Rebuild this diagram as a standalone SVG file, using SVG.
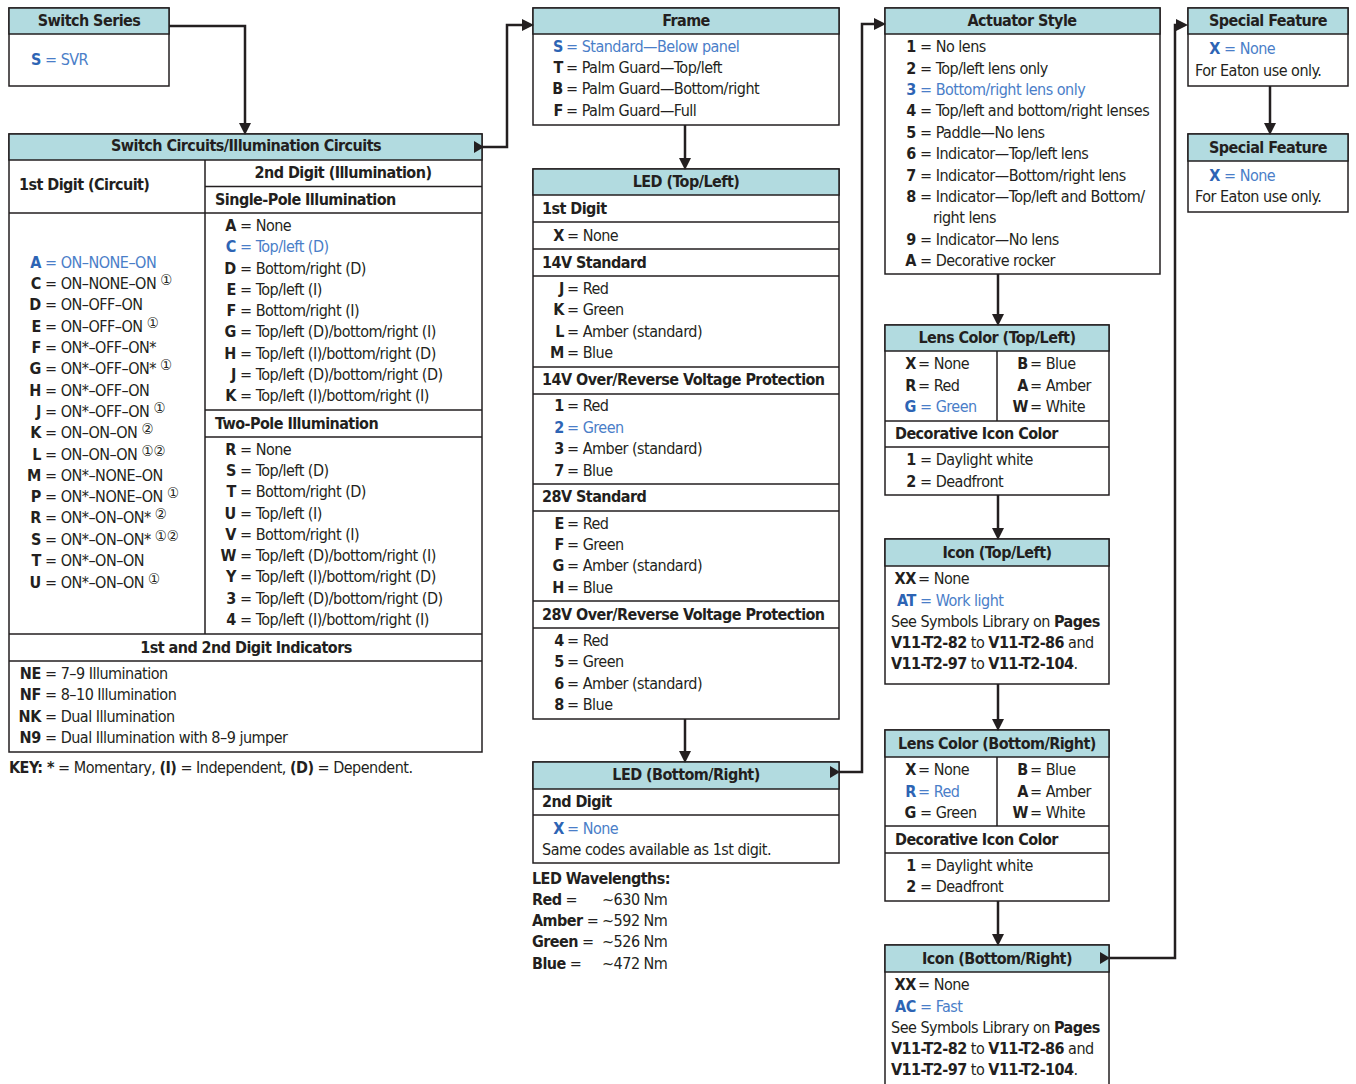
<svg xmlns="http://www.w3.org/2000/svg" width="1356" height="1084" viewBox="0 0 1356 1084">
<style>
text{font-family:"DejaVu Sans Condensed","Liberation Sans Narrow","Liberation Sans",sans-serif;font-size:16px;letter-spacing:-0.5px;fill:#231f20}
.b{font-weight:bold;letter-spacing:-0.55px}
.h{font-weight:bold;text-anchor:middle;letter-spacing:-0.55px}
.e{font-weight:bold;text-anchor:end;letter-spacing:-0.3px}
.bl{fill:#4a7ec8}
.bc{fill:#2d64b4;font-weight:bold;text-anchor:end;letter-spacing:-0.3px}
.sup{font-size:15px;letter-spacing:0}
.hd{fill:#b2dbe0;stroke:#231f20;stroke-width:1.5}
.bx{fill:#fff;stroke:#231f20;stroke-width:1.5}
.ln{fill:none;stroke:#231f20;stroke-width:1.5}
.cn{fill:none;stroke:#231f20;stroke-width:2.5}
.ah{fill:#231f20}
</style>

<g id="switch-series">
<rect class="bx" x="9" y="8" width="160" height="78"/>
<rect class="hd" x="9" y="8" width="160" height="26"/>
<text class="h" x="89" y="26">Switch Series</text>
<text class="bc" x="41" y="65">S</text><text class="bl" x="45" y="65">= SVR</text>
</g>

<g id="switch-circuits">
<rect class="bx" x="9" y="134" width="473" height="618"/>
<rect class="hd" x="9" y="134" width="473" height="26"/>
<text class="h" x="246" y="151">Switch Circuits/Illumination Circuits</text>
<path class="ln" d="M205,160 V634 M9,213 H482 M205,186.5 H482 M205,410 H482 M205,437 H482 M9,634 H482 M9,661 H482"/>
<text class="b" x="19" y="190">1st Digit (Circuit)</text>
<text class="h" x="343" y="178">2nd Digit (Illumination)</text>
<text class="b" x="215" y="205">Single-Pole Illumination</text>
<text class="b" x="215" y="429">Two-Pole Illumination</text>
<text class="h" x="246" y="653">1st and 2nd Digit Indicators</text>

<text class="bc" x="41" y="268">A</text><text class="bl" x="45" y="268">= ON–NONE–ON</text>
<text class="e" x="41" y="289">C</text><text x="45" y="289">= ON–NONE–ON <tspan class="sup" dy="-4">①</tspan></text>
<text class="e" x="41" y="310">D</text><text x="45" y="310">= ON–OFF–ON</text>
<text class="e" x="41" y="332">E</text><text x="45" y="332">= ON–OFF–ON <tspan class="sup" dy="-4">①</tspan></text>
<text class="e" x="41" y="353">F</text><text x="45" y="353">= ON*–OFF–ON*</text>
<text class="e" x="41" y="374">G</text><text x="45" y="374">= ON*–OFF–ON* <tspan class="sup" dy="-4">①</tspan></text>
<text class="e" x="41" y="396">H</text><text x="45" y="396">= ON*–OFF–ON</text>
<text class="e" x="41" y="417">J</text><text x="45" y="417">= ON*–OFF–ON <tspan class="sup" dy="-4">①</tspan></text>
<text class="e" x="41" y="438">K</text><text x="45" y="438">= ON–ON–ON <tspan class="sup" dy="-4">②</tspan></text>
<text class="e" x="41" y="460">L</text><text x="45" y="460">= ON–ON–ON <tspan class="sup" dy="-4">①②</tspan></text>
<text class="e" x="41" y="481">M</text><text x="45" y="481">= ON*–NONE–ON</text>
<text class="e" x="41" y="502">P</text><text x="45" y="502">= ON*–NONE–ON <tspan class="sup" dy="-4">①</tspan></text>
<text class="e" x="41" y="523">R</text><text x="45" y="523">= ON*–ON–ON* <tspan class="sup" dy="-4">②</tspan></text>
<text class="e" x="41" y="545">S</text><text x="45" y="545">= ON*–ON–ON* <tspan class="sup" dy="-4">①②</tspan></text>
<text class="e" x="41" y="566">T</text><text x="45" y="566">= ON*–ON–ON</text>
<text class="e" x="41" y="588">U</text><text x="45" y="588">= ON*–ON–ON <tspan class="sup" dy="-4">①</tspan></text>

<text class="e" x="236" y="231">A</text><text x="240" y="231">= None</text>
<text class="bc" x="236" y="252">C</text><text class="bl" x="240" y="252">= Top/left (D)</text>
<text class="e" x="236" y="274">D</text><text x="240" y="274">= Bottom/right (D)</text>
<text class="e" x="236" y="295">E</text><text x="240" y="295">= Top/left (I)</text>
<text class="e" x="236" y="316">F</text><text x="240" y="316">= Bottom/right (I)</text>
<text class="e" x="236" y="337">G</text><text x="240" y="337">= Top/left (D)/bottom/right (I)</text>
<text class="e" x="236" y="359">H</text><text x="240" y="359">= Top/left (I)/bottom/right (D)</text>
<text class="e" x="236" y="380">J</text><text x="240" y="380">= Top/left (D)/bottom/right (D)</text>
<text class="e" x="236" y="401">K</text><text x="240" y="401">= Top/left (I)/bottom/right (I)</text>

<text class="e" x="236" y="455">R</text><text x="240" y="455">= None</text>
<text class="e" x="236" y="476">S</text><text x="240" y="476">= Top/left (D)</text>
<text class="e" x="236" y="497">T</text><text x="240" y="497">= Bottom/right (D)</text>
<text class="e" x="236" y="519">U</text><text x="240" y="519">= Top/left (I)</text>
<text class="e" x="236" y="540">V</text><text x="240" y="540">= Bottom/right (I)</text>
<text class="e" x="236" y="561">W</text><text x="240" y="561">= Top/left (D)/bottom/right (I)</text>
<text class="e" x="236" y="582">Y</text><text x="240" y="582">= Top/left (I)/bottom/right (D)</text>
<text class="e" x="236" y="604">3</text><text x="240" y="604">= Top/left (D)/bottom/right (D)</text>
<text class="e" x="236" y="625">4</text><text x="240" y="625">= Top/left (I)/bottom/right (I)</text>

<text class="e" x="41" y="679">NE</text><text x="45" y="679">= 7–9 Illumination</text>
<text class="e" x="41" y="700">NF</text><text x="45" y="700">= 8–10 Illumination</text>
<text class="e" x="41" y="722">NK</text><text x="45" y="722">= Dual Illumination</text>
<text class="e" x="41" y="743">N9</text><text x="45" y="743">= Dual Illumination with 8–9 jumper</text>
</g>

<g id="key">
<text x="9" y="773"><tspan class="b">KEY: *</tspan> = Momentary, <tspan class="b">(I)</tspan> = Independent, <tspan class="b">(D)</tspan> = Dependent.</text>
</g>

<g id="frame">
<rect class="bx" x="533" y="8" width="306" height="117"/>
<rect class="hd" x="533" y="8" width="306" height="26"/>
<text class="h" x="686" y="26">Frame</text>
<text class="bc" x="563" y="52">S</text><text class="bl" x="566" y="52">= Standard—Below panel</text>
<text class="e" x="563" y="73">T</text><text x="566" y="73">= Palm Guard—Top/left</text>
<text class="e" x="563" y="94">B</text><text x="566" y="94">= Palm Guard—Bottom/right</text>
<text class="e" x="563" y="116">F</text><text x="566" y="116">= Palm Guard—Full</text>
</g>

<g id="led-top-left">
<rect class="bx" x="533" y="169" width="306" height="550"/>
<rect class="hd" x="533" y="169" width="306" height="26"/>
<text class="h" x="686" y="187">LED (Top/Left)</text>
<path class="ln" d="M533,222 H839 M533,249 H839 M533,276 H839 M533,367 H839 M533,394 H839 M533,484 H839 M533,511 H839 M533,601 H839 M533,628 H839"/>
<text class="b" x="542" y="214">1st Digit</text>
<text class="e" x="564" y="241">X</text><text x="567" y="241">= None</text>
<text class="b" x="542" y="268">14V Standard</text>
<text class="e" x="564" y="294">J</text><text x="567" y="294">= Red</text>
<text class="e" x="564" y="315">K</text><text x="567" y="315">= Green</text>
<text class="e" x="564" y="337">L</text><text x="567" y="337">= Amber (standard)</text>
<text class="e" x="564" y="358">M</text><text x="567" y="358">= Blue</text>
<text class="b" x="542" y="385">14V Over/Reverse Voltage Protection</text>
<text class="e" x="564" y="411">1</text><text x="567" y="411">= Red</text>
<text class="bc" x="564" y="433">2</text><text class="bl" x="567" y="433">= Green</text>
<text class="e" x="564" y="454">3</text><text x="567" y="454">= Amber (standard)</text>
<text class="e" x="564" y="476">7</text><text x="567" y="476">= Blue</text>
<text class="b" x="542" y="502">28V Standard</text>
<text class="e" x="564" y="529">E</text><text x="567" y="529">= Red</text>
<text class="e" x="564" y="550">F</text><text x="567" y="550">= Green</text>
<text class="e" x="564" y="571">G</text><text x="567" y="571">= Amber (standard)</text>
<text class="e" x="564" y="593">H</text><text x="567" y="593">= Blue</text>
<text class="b" x="542" y="620">28V Over/Reverse Voltage Protection</text>
<text class="e" x="564" y="646">4</text><text x="567" y="646">= Red</text>
<text class="e" x="564" y="667">5</text><text x="567" y="667">= Green</text>
<text class="e" x="564" y="689">6</text><text x="567" y="689">= Amber (standard)</text>
<text class="e" x="564" y="710">8</text><text x="567" y="710">= Blue</text>
</g>

<g id="led-bottom-right">
<rect class="bx" x="533" y="762" width="306" height="101"/>
<rect class="hd" x="533" y="762" width="306" height="27"/>
<text class="h" x="686" y="780">LED (Bottom/Right)</text>
<path class="ln" d="M533,815 H839"/>
<text class="b" x="542" y="807">2nd Digit</text>
<text class="bc" x="564" y="834">X</text><text class="bl" x="567" y="834">= None</text>
<text x="542" y="855">Same codes available as 1st digit.</text>
</g>

<g id="led-wavelengths">
<text class="b" x="532" y="884">LED Wavelengths:</text>
<text x="532" y="905"><tspan class="b">Red</tspan> =</text><text x="602" y="905">~630 Nm</text>
<text x="532" y="926"><tspan class="b">Amber</tspan> =</text><text x="602" y="926">~592 Nm</text>
<text x="532" y="947"><tspan class="b">Green</tspan> =</text><text x="602" y="947">~526 Nm</text>
<text x="532" y="969"><tspan class="b">Blue</tspan> =</text><text x="602" y="969">~472 Nm</text>
</g>

<g id="actuator-style">
<rect class="bx" x="885" y="8" width="275" height="266"/>
<rect class="hd" x="885" y="8" width="275" height="26"/>
<text class="h" x="1022" y="26">Actuator Style</text>
<text class="e" x="916" y="52">1</text><text x="920" y="52">= No lens</text>
<text class="e" x="916" y="74">2</text><text x="920" y="74">= Top/left lens only</text>
<text class="bc" x="916" y="95">3</text><text class="bl" x="920" y="95">= Bottom/right lens only</text>
<text class="e" x="916" y="116">4</text><text x="920" y="116">= Top/left and bottom/right lenses</text>
<text class="e" x="916" y="138">5</text><text x="920" y="138">= Paddle—No lens</text>
<text class="e" x="916" y="159">6</text><text x="920" y="159">= Indicator—Top/left lens</text>
<text class="e" x="916" y="181">7</text><text x="920" y="181">= Indicator—Bottom/right lens</text>
<text class="e" x="916" y="202">8</text><text x="920" y="202">= Indicator—Top/left and Bottom/</text>
<text x="933" y="223">right lens</text>
<text class="e" x="916" y="245">9</text><text x="920" y="245">= Indicator—No lens</text>
<text class="e" x="916" y="266">A</text><text x="920" y="266">= Decorative rocker</text>
</g>

<g id="lens-color-top-left">
<rect class="bx" x="885" y="325" width="224" height="170"/>
<rect class="hd" x="885" y="325" width="224" height="26"/>
<text class="h" x="997" y="343">Lens Color (Top/Left)</text>
<path class="ln" d="M997,351 V421 M885,421 H1109 M885,447 H1109"/>
<text class="e" x="916" y="369">X</text><text x="918" y="369">=  None</text>
<text class="e" x="916" y="391">R</text><text x="918" y="391">=  Red</text>
<text class="bc" x="916" y="412">G</text><text class="bl" x="920" y="412">= Green</text>
<text class="e" x="1028" y="369">B</text><text x="1030" y="369">=  Blue</text>
<text class="e" x="1028" y="391">A</text><text x="1030" y="391">=  Amber</text>
<text class="e" x="1028" y="412">W</text><text x="1030" y="412">=  White</text>
<text class="b" x="895" y="439">Decorative Icon Color</text>
<text class="e" x="916" y="465">1</text><text x="920" y="465">= Daylight white</text>
<text class="e" x="916" y="487">2</text><text x="920" y="487">= Deadfront</text>
</g>

<g id="icon-top-left">
<rect class="bx" x="885" y="539" width="224" height="145"/>
<rect class="hd" x="885" y="539" width="224" height="27"/>
<text class="h" x="997" y="558">Icon (Top/Left)</text>
<text class="e" x="916" y="584">XX</text><text x="918" y="584">=  None</text>
<text class="bc" x="916" y="606">AT</text><text class="bl" x="920" y="606">= Work light</text>
<text x="891" y="627">See Symbols Library on <tspan class="b">Pages</tspan></text>
<text x="891" y="648"><tspan class="b">V11-T2-82</tspan> to <tspan class="b">V11-T2-86</tspan> and</text>
<text x="891" y="669"><tspan class="b">V11-T2-97</tspan> to <tspan class="b">V11-T2-104</tspan>.</text>
</g>

<g id="lens-color-bottom-right">
<rect class="bx" x="885" y="730" width="224" height="171"/>
<rect class="hd" x="885" y="730" width="224" height="27"/>
<text class="h" x="997" y="749">Lens Color (Bottom/Right)</text>
<path class="ln" d="M997,757 V826 M885,826 H1109 M885,853 H1109"/>
<text class="e" x="916" y="775">X</text><text x="918" y="775">=  None</text>
<text class="bc" x="916" y="797">R</text><text class="bl" x="918" y="797">=  Red</text>
<text class="e" x="916" y="818">G</text><text x="920" y="818">= Green</text>
<text class="e" x="1028" y="775">B</text><text x="1030" y="775">=  Blue</text>
<text class="e" x="1028" y="797">A</text><text x="1030" y="797">=  Amber</text>
<text class="e" x="1028" y="818">W</text><text x="1030" y="818">=  White</text>
<text class="b" x="895" y="845">Decorative Icon Color</text>
<text class="e" x="916" y="871">1</text><text x="920" y="871">= Daylight white</text>
<text class="e" x="916" y="892">2</text><text x="920" y="892">= Deadfront</text>
</g>

<g id="icon-bottom-right">
<rect class="bx" x="885" y="945" width="224" height="145"/>
<rect class="hd" x="885" y="945" width="224" height="27"/>
<text class="h" x="997" y="964">Icon (Bottom/Right)</text>
<text class="e" x="916" y="990">XX</text><text x="918" y="990">=  None</text>
<text class="bc" x="916" y="1012">AC</text><text class="bl" x="920" y="1012">= Fast</text>
<text x="891" y="1033">See Symbols Library on <tspan class="b">Pages</tspan></text>
<text x="891" y="1054"><tspan class="b">V11-T2-82</tspan> to <tspan class="b">V11-T2-86</tspan> and</text>
<text x="891" y="1075"><tspan class="b">V11-T2-97</tspan> to <tspan class="b">V11-T2-104</tspan>.</text>
</g>

<g id="special-feature-1">
<rect class="bx" x="1188" y="8" width="160" height="78"/>
<rect class="hd" x="1188" y="8" width="160" height="26"/>
<text class="h" x="1268" y="26">Special Feature</text>
<text class="bc" x="1220" y="54">X</text><text class="bl" x="1224" y="54">= None</text>
<text x="1195" y="76">For Eaton use only.</text>
</g>

<g id="special-feature-2">
<rect class="bx" x="1188" y="134" width="160" height="78"/>
<rect class="hd" x="1188" y="134" width="160" height="27"/>
<text class="h" x="1268" y="153">Special Feature</text>
<text class="bc" x="1220" y="181">X</text><text class="bl" x="1224" y="181">= None</text>
<text x="1195" y="202">For Eaton use only.</text>
</g>

<g id="connectors">
<path class="cn" d="M169,26 H245 V125"/>
<polygon class="ah" points="239,123 251,123 245,135"/>
<path class="cn" d="M483,147 H507 V25 H524"/>
<polygon class="ah" points="474,141 474,153 484,147"/>
<polygon class="ah" points="522,19 522,31 534,25"/>
<path class="cn" d="M685,125 V160"/>
<polygon class="ah" points="679,158 691,158 685,170"/>
<path class="cn" d="M685,719 V753"/>
<polygon class="ah" points="679,751 691,751 685,763"/>
<path class="cn" d="M839,772 H862 V24 H876"/>
<polygon class="ah" points="830,766 830,778 840,772"/>
<polygon class="ah" points="874,18 874,30 886,24"/>
<path class="cn" d="M998,274 V316"/>
<polygon class="ah" points="992,314 1004,314 998,326"/>
<path class="cn" d="M998,495 V530"/>
<polygon class="ah" points="992,528 1004,528 998,540"/>
<path class="cn" d="M998,684 V721"/>
<polygon class="ah" points="992,719 1004,719 998,731"/>
<path class="cn" d="M998,901 V936"/>
<polygon class="ah" points="992,934 1004,934 998,946"/>
<path class="cn" d="M1110,958 H1175 V25 H1178"/>
<polygon class="ah" points="1100,952 1100,964 1110,958"/>
<polygon class="ah" points="1176,19 1176,31 1188,25"/>
<path class="cn" d="M1270,86 V125"/>
<polygon class="ah" points="1264,123 1276,123 1270,135"/>
</g>
</svg>
